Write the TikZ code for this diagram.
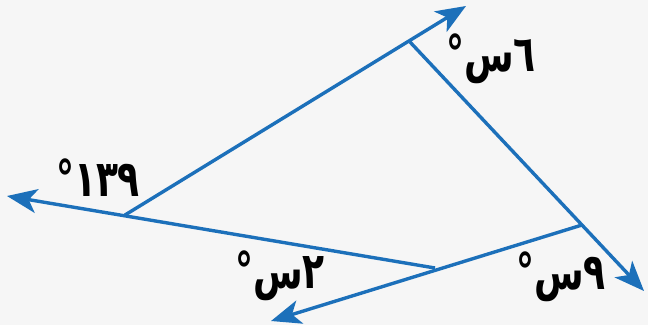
\documentclass[tikz,border=0pt]{standalone}
\usepackage{fontspec}
\usetikzlibrary{arrows.meta}
\TeXXeTstate=1
\newfontfamily\arabicfont[Script=Arabic]{DejaVu Sans}
\definecolor{lineblue}{RGB}{28,112,186}
\definecolor{bgc}{RGB}{246,246,246}
\newcommand{\tallt}[1]{\scalebox{1.0}[1.4]{#1}}
\begin{document}
\begin{tikzpicture}[x=1pt,y=-1pt,
  ray/.style={draw=lineblue, line width=3.4pt, -{Stealth[length=30pt,width=24pt,inset=8pt]}},
  lbl/.style={font=\arabicfont\bfseries\fontsize{36}{40}\selectfont, inner sep=0pt, text=black}]
\fill[bgc] (0,0) rectangle (648,325);
\useasboundingbox (0,0) rectangle (648,325);
\coordinate (L) at (125,215);
\coordinate (T) at (410,42);
\coordinate (R) at (582,225);
\coordinate (B) at (435,268);
\coordinate (tipT) at (466,6);
\coordinate (tipR) at (644,291);
\coordinate (tipB) at (271,321);
\coordinate (tipL) at (7,196);
\draw[ray] (L) -- (tipT);
\draw[ray] (T) -- (tipR);
\draw[ray] (R) -- (tipB);
\draw[ray] (B) -- (tipL);
\node[lbl] (a1) at (98,178) {\tallt{\beginR\beginL ١٣٩\endL°\endR}};
\node[lbl] (a2) at (491,59) {\tallt{\beginR ٦س°\endR}};
\node[lbl] (a3) at (280,276) {\tallt{\beginR ٢س°\endR}};
\node[lbl] (a4) at (561,277) {\tallt{\beginR ٩س°\endR}};
\end{tikzpicture}
\end{document}
